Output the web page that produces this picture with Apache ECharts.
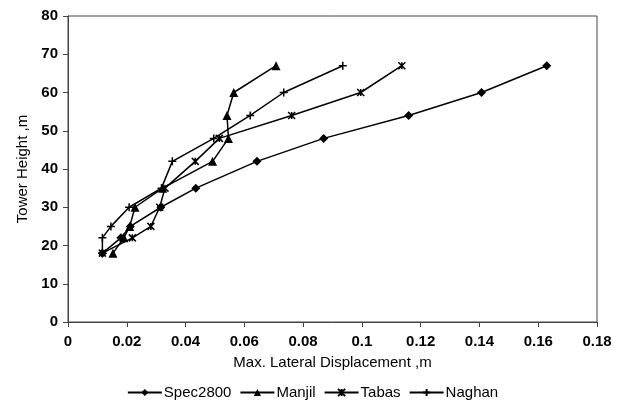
<!DOCTYPE html>
<html>
<head>
<meta charset="utf-8">
<script src="https://cdn.jsdelivr.net/npm/echarts@6/dist/echarts.min.js"></script>
<style>html,body{margin:0;padding:0;background:#fff;}#c{width:625px;height:407px;}</style>
</head>
<body>
<div id="c"></div>
<script>
const seriesNames = ['Spec2800', 'Manjil', 'Tabas', 'Naghan'];
const heights = [18, 22, 25, 30, 35, 42, 48, 54, 60, 67];
const spec2800 = [0.0117, 0.0180, 0.0212, 0.0316, 0.0435, 0.0643, 0.0870, 0.1159, 0.1407, 0.1629];
const manjil   = [0.0153, 0.0190, 0.0210, 0.0228, 0.0322, 0.0492, 0.0546, 0.0541, 0.0564, 0.0708];
const tabas    = [0.0117, 0.0219, 0.0282, 0.0312, 0.0330, 0.0433, 0.0515, 0.0761, 0.0996, 0.1136];
const naghan   = [0.0117, 0.0117, 0.0146, 0.0208, 0.0318, 0.0355, 0.0496, 0.0620, 0.0734, 0.0935];
const xTicks = { min: 0, max: 0.18, interval: 0.02 };
const yTicks = { min: 0, max: 80, interval: 10 };

const pairs = (xs) => xs.map((x, i) => [x, heights[i]]);
const font = 'Liberation Sans, Arial, sans-serif';
const asterisk = 'path://M0,0L10,10M10,0L0,10M5,0L5,10';
const plus = 'path://M5,0L5,10M0,5L10,5';

const mk = (name, data, symbol, size, stroke) => ({
  name, type: 'line', data: pairs(data), symbol, symbolSize: size,
  lineStyle: { color: '#000', width: 1.5 },
  itemStyle: stroke ? { color: '#000', borderColor: '#000', borderWidth: 1.5 } : { color: '#000' },
  emphasis: { disabled: true }, animation: false
});

const chart = echarts.init(document.getElementById('c'));
chart.setOption({
  animation: false,
  grid: { left: 68, right: 28, top: 16, bottom: 85, show: true, borderColor: '#444', borderWidth: 1 },
  xAxis: {
    type: 'value', min: xTicks.min, max: xTicks.max, interval: xTicks.interval,
    name: 'Max. Lateral Displacement ,m', nameLocation: 'middle', nameGap: 33,
    nameTextStyle: { fontFamily: font, fontSize: 15, color: '#000' },
    axisLine: { show: true, lineStyle: { color: '#444', width: 1 } },
    axisTick: { show: true, length: 5, lineStyle: { color: '#444' } },
    axisLabel: { fontFamily: font, fontSize: 15, fontWeight: 'bold', color: '#000', margin: 12 },
    splitLine: { show: false }
  },
  yAxis: {
    type: 'value', min: yTicks.min, max: yTicks.max, interval: yTicks.interval,
    name: 'Tower Height ,m', nameLocation: 'middle', nameGap: 36, nameRotate: 90,
    nameTextStyle: { fontFamily: font, fontSize: 15, color: '#000' },
    axisLine: { show: true, lineStyle: { color: '#444', width: 1 } },
    axisTick: { show: true, length: 5, lineStyle: { color: '#444' } },
    axisLabel: { fontFamily: font, fontSize: 15, fontWeight: 'bold', color: '#000', margin: 10 },
    splitLine: { show: false }
  },
  legend: {
    data: seriesNames, bottom: 2, left: 'center', itemWidth: 34, itemHeight: 9, itemGap: 8,
    textStyle: { fontFamily: font, fontSize: 15, color: '#000', padding: [0, 0, 0, -3] }
  },
  series: [
    mk(seriesNames[0], spec2800, 'diamond', 9, false),
    mk(seriesNames[1], manjil, 'triangle', 9, false),
    mk(seriesNames[2], tabas, asterisk, 7, true),
    mk(seriesNames[3], naghan, plus, 8, true)
  ]
});
</script>
</body>
</html>
